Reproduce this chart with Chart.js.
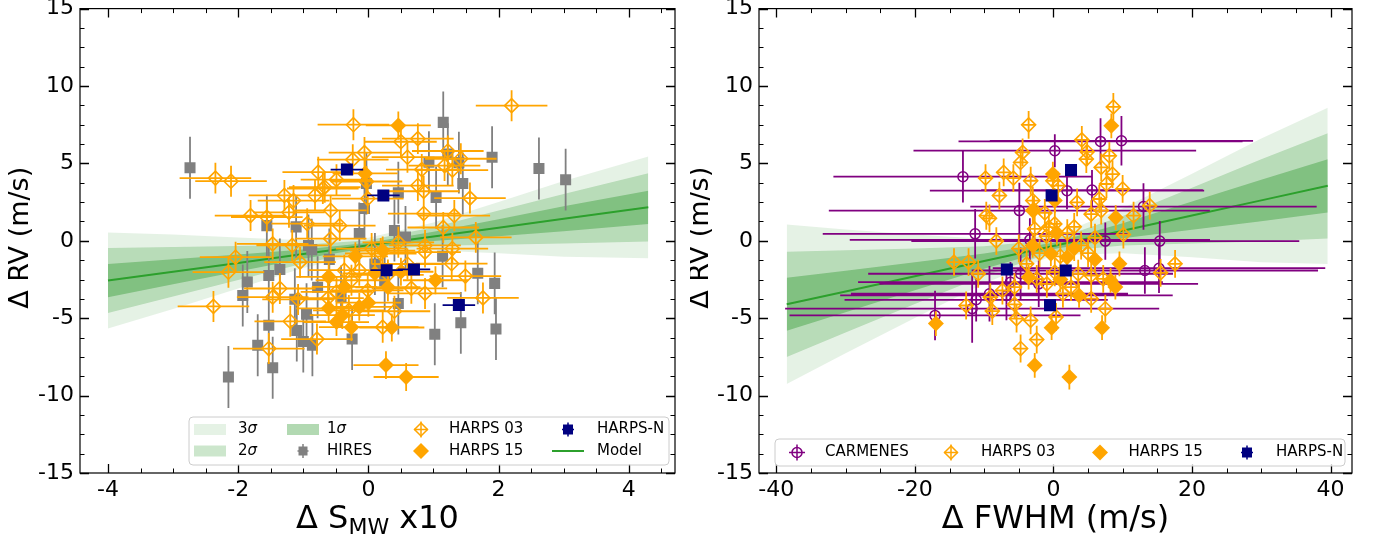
<!DOCTYPE html>
<html>
<head>
<meta charset="utf-8">
<script src="https://cdn.jsdelivr.net/npm/chart.js@4.4.0/dist/chart.umd.min.js"></script>
<style>
  html, body { margin: 0; padding: 0; background: #fff; overflow: hidden; }
  #wrap { position: relative; width: 1383px; height: 540px; }
  #c1 { position: absolute; left: 0; top: 0; }
  #c2 { position: absolute; left: 690px; top: 0; }
</style>
</head>
<body>
<div id="wrap">
  <canvas id="c1" width="690" height="540"></canvas>
  <canvas id="c2" width="693" height="540"></canvas>
</div>
<script>
// ---- ticks ----
const yTicks = [-15, -10, -5, 0, 5, 10, 15];
const xTicksS = [-4, -2, 0, 2, 4];
const xTicksF = [-40, -20, 0, 20, 40];

// ---- panel 1 : RV vs S_MW ----
const hiresX = [-2.74, -2.15, -1.93, -1.86, -1.70, -1.56, -1.53, -1.53, -1.47, -1.36, -1.13, -1.11, -1.10, -1.00, -0.95, -0.92, -0.87, -0.86, -0.78, -0.42, -0.25, -0.14, -0.06, -0.03, 0.40, 0.46, 0.46, 0.57, 0.93, 1.02, 1.04, 1.14, 1.15, 1.22, 1.39, 1.42, 1.45, 1.68, 1.90, 1.94, 1.96, 2.62, 3.03, 0.10, -0.60, 0.25];
const hiresY = [4.72, -8.8, -3.53, -2.66, -6.75, 0.98, -2.24, -5.46, -8.2, -1.85, -3.77, 0.9, -5.8, -6.5, -4.75, -0.3, -0.57, -6.75, -3.0, -3.6, -6.35, 0.47, 2.08, 3.7, 0.67, 3.1, -4.05, 0.25, 5.08, -6.04, 2.8, -1.0, 7.65, 5.6, 5.05, -5.3, 3.7, -2.1, 5.4, -2.75, -5.7, 4.67, 3.95, -1.5, -1.2, -2.6];

const h03sX = [-0.23, 2.2, 0.5, 0.76, -0.06, -0.24, 0.6, 1.22, 1.42, 1.17, 0.82, 1.29, -0.77, -2.35, -2.11, -0.49, -0.67, 0.76, 0.85, -0.03, -1.29, -1.15, -0.82, -0.7, 1.56, -0.01, -1.22, -1.81, -1.56, -0.58, 0.85, 1.32, -0.94, -0.44, 1.15, 1.65, -1.47, -1.17, -0.58, 0.46, 0.87, 1.29, -2.04, -2.15, -1.05, -1.36, -1.47, -1.08, -2.38, -1.2, -1.53, -0.79, 0.4, 0.22, 1.76, 0.87, 1.49, 1.28, -0.26, -0.49, -0.01, 0.66, 0.87, 0.19, -0.37, -0.62, -0.14, 0.3, -0.3, 0.6, 0.05];
const h03sY = [7.5, 8.73, 6.4, 6.6, 5.7, 5.24, 5.4, 5.8, 5.3, 4.86, 4.6, 4.57, 4.43, 4.05, 3.85, 3.95, 3.46, 3.57, 3.2, 3.83, 2.93, 2.6, 2.93, 3.38, 2.76, 2.73, 1.84, 1.63, 1.53, 1.96, 1.76, 1.63, 1.11, 0.98, 0.86, 0.22, -0.2, -0.3, 0.14, -0.1, -0.3, -0.5, -1.06, -2.03, -1.38, -3.08, -3.64, -3.79, -4.24, -5.2, -6.96, -6.35, -4.55, -5.58, -3.69, -3.4, -2.28, -1.48, -2.55, -3.3, -3.2, -3.07, -0.73, -0.82, -1.9, -3.7, -1.9, -2.2, -4.5, -1.5, -0.5];

const h15sX = [0.46, -0.05, -0.61, -0.26, 0.36, 1.03, 0.27, 0.58, -0.49, -0.61, 0.22, 0.1, -0.14, -0.37, 0.3, 0.0, -0.2, 0.5, -0.4];
const h15sY = [7.45, 4.35, -2.33, -5.58, -5.6, -2.55, -8.03, -8.8, -5.25, -4.36, -0.63, -2.1, -4.27, -2.98, -3.0, -4.0, -1.0, -2.0, -4.8];

const hnsX = [-0.33, 0.23, 0.28, 0.7, 1.39];
const hnsY = [4.6, 2.93, -1.9, -1.85, -4.15];

const modelSX = [-4, -3, -2, -1, 0, 1, 2, 3, 4.3];
const modelSY = [-2.57, -2.0, -1.43, -0.86, -0.29, 0.28, 0.85, 1.42, 2.16];
const s1UpS = [-1.50, -1.19, -0.88, -0.56, -0.13, 0.58, 1.40, 2.23, 3.24];
const s1LoS = [-3.64, -2.81, -1.98, -1.16, -0.45, -0.02, 0.30, 0.61, 1.08];
const s2UpS = [-0.47, -0.40, -0.33, -0.26, 0.03, 0.88, 1.95, 3.02, 4.36];
const s2LoS = [-4.67, -3.60, -2.53, -1.46, -0.61, -0.32, -0.25, -0.18, -0.04];
const s3UpS = [0.53, 0.40, 0.22, 0.04, 0.19, 1.18, 2.50, 3.87, 5.44];
const s3LoS = [-5.67, -4.40, -3.08, -1.76, -0.77, -0.62, -0.80, -1.03, -1.12];

// ---- panel 2 : RV vs FWHM ----
const carmX = [-13.06, 0.2, 6.8, 9.82, 1.96, 5.57, -4.92, 13.0, -11.3, -3.4, 7.49, 15.35, 13.2, 15.24, -4.74, -2.12, -9.23, -6.78, -11.15, -11.73, -17.09, -6.2];
const carmY = [4.14, 5.82, 6.42, 6.46, 3.24, 3.28, 1.95, 2.21, 0.45, 0.06, -0.02, -0.02, -1.92, -1.77, -2.13, -2.78, -3.42, -3.53, -3.81, -4.38, -4.82, -2.67];
const carmXErr = [18.7, 20.4, 20.5, 19, 19.8, 16, 27.5, 25, 22, 26, 28, 14, 25, 24, 22, 23, 20, 24, 19, 27, 21, 22];
const carmYErr = [1.66, 1.07, 1.5, 1.6, 1.2, 1.3, 1.8, 1.5, 1.6, 1.4, 1.2, 1.3, 1.5, 1.6, 1.7, 1.5, 1.8, 1.6, 1.4, 2.2, 1.6, 1.3];

const h03fX = [8.65, -3.58, 4.1, 4.87, -4.45, -4.74, 4.75, -7.18, -5.78, -9.8, -3.28, -0.08, 0.68, 6.9, 8.07, 8.53, 7.66, 9.99, -7.8, -2.98, 3.42, 6.62, -9.69, -9.23, -2.8, -1.24, 0.2, 5.45, 11.57, 13.9, 6.9, -8.24, 10.1, -2.7, -0.66, -14.35, -12.25, -10.86, -3.87, -2.41, 0.2, 3.58, 5.45, 7.19, 17.56, 15.47, -7.36, -5.61, -9.11, -12.6, -8.82, -5.61, -5.32, -3.29, 0.38, 5.45, 7.49, 1.37, -2.41, -4.74, -0.95, 2.54, -5, -1, 2, 4, 6, -2, 1, 3, 5];
const h03fY = [8.65, 7.49, 6.52, 5.75, 5.71, 5.06, 5.28, 4.42, 4.05, 4.05, 3.88, 3.88, 3.56, 4.74, 5.49, 4.31, 3.67, 3.35, 2.92, 2.6, 2.48, 2.7, 1.62, 1.45, 2.0, 1.8, 1.09, 1.72, 1.62, 2.27, 1.95, -0.02, 0.4, 0.77, 0.88, -1.38, -1.38, -2.13, -1.49, -2.46, -2.03, -2.13, -2.24, -2.46, -1.49, -2.07, -3.21, -2.99, -3.64, -4.18, -4.54, -4.11, -5.03, -5.14, -4.92, -3.74, -4.39, -3.42, -6.38, -6.96, -2.78, -2.99, -0.5, 0.3, 0.5, -0.3, 0.2, -0.8, -1, 0.9, -0.8];

const h15fX = [8.36, -0.08, 8.99, 0.2, -2.98, -16.97, -0.26, 7.02, -2.7, 2.3, 9.53, 8.25, 8.94, 1.96, 3.7, -3.58, -0.37, -3, 0.5, 3, 6, 1.0];
const h15fY = [7.43, 4.31, 1.5, 2.6, 1.95, -5.35, -5.61, -5.61, -8.04, -8.8, -1.49, -2.56, -2.99, -1.06, -3.53, -2.35, -0.84, -0.3, 0.5, -0.5, -1.2, -2.5];

const hnfX = [2.54, -0.26, -6.72, 1.78, -0.49];
const hnfY = [4.57, 2.92, -1.85, -1.92, -4.17];

const modelFX = [-38.5, -30, -20, -10, 0, 10, 20, 30, 39.6];
const modelFY = [-4.10, -3.27, -2.29, -1.31, -0.33, 0.65, 1.63, 2.61, 3.55];
const s1UpF = [-2.39, -1.93, -1.38, -0.82, -0.13, 1.14, 2.54, 3.95, 5.27];
const s1LoF = [-5.81, -4.61, -3.20, -1.80, -0.53, 0.16, 0.72, 1.27, 1.83];
const s2UpF = [-0.70, -0.61, -0.49, -0.35, 0.07, 1.61, 3.43, 5.27, 6.95];
const s2LoF = [-7.50, -5.93, -4.09, -2.27, -0.73, -0.31, -0.17, -0.05, 0.15];
const s3UpF = [1.05, 0.73, 0.41, 0.14, 0.27, 2.10, 4.33, 6.61, 8.60];
const s3LoF = [-9.25, -7.27, -4.99, -2.76, -0.93, -0.80, -1.07, -1.39, -1.50];

// ---- colours ----
const ORANGE = '#ffa500', GREY = '#808080', NAVY = '#000080', PURPLE = '#800080';
const LINEGREEN = '#2ca02c';
const FONT = '"DejaVu Sans", "Liberation Sans", sans-serif';

const pts = (xs, ys) => xs.map((x, i) => ({ x: x, y: ys[i] }));

// error bars drawn under each scatter set, through the chart scales
const errorBars = {
  id: 'errorBars',
  beforeDatasetDraw(chart, args) {
    const ds = chart.data.datasets[args.index];
    if (ds.errX === undefined && ds.errY === undefined) return;
    const ctx = chart.ctx, a = chart.chartArea;
    const sx = chart.scales.x, sy = chart.scales.y;
    ctx.save();
    ctx.beginPath();
    ctx.rect(a.left, a.top, a.right - a.left, a.bottom - a.top);
    ctx.clip();
    ctx.strokeStyle = ds.errColor;
    ctx.lineWidth = ds.errWidth || 1.5;
    ctx.beginPath();
    ds.data.forEach((p, i) => {
      const ex = Array.isArray(ds.errX) ? ds.errX[i] : (ds.errX || 0);
      const ey = Array.isArray(ds.errY) ? ds.errY[i] : (ds.errY || 0);
      const px = sx.getPixelForValue(p.x), py = sy.getPixelForValue(p.y);
      if (ex) { ctx.moveTo(sx.getPixelForValue(p.x - ex), py); ctx.lineTo(sx.getPixelForValue(p.x + ex), py); }
      if (ey) { ctx.moveTo(px, sy.getPixelForValue(p.y - ey)); ctx.lineTo(px, sy.getPixelForValue(p.y + ey)); }
    });
    ctx.stroke();
    ctx.restore();
  }
};

function marker(ctx, style, x, y, r, fill, stroke, lw) {
  ctx.save();
  ctx.beginPath();
  if (style === 'rect') ctx.rect(x - r, y - r, 2 * r, 2 * r);
  else if (style === 'diamond') { ctx.moveTo(x, y - r); ctx.lineTo(x + r, y); ctx.lineTo(x, y + r); ctx.lineTo(x - r, y); ctx.closePath(); }
  else if (style === 'circle') ctx.arc(x, y, r, 0, Math.PI * 2);
  if (fill) { ctx.fillStyle = fill; ctx.fill(); }
  if (stroke) { ctx.strokeStyle = stroke; ctx.lineWidth = lw; ctx.stroke(); }
  ctx.restore();
}

function errCross(ctx, x, y, dx, dy, col, lw) {
  ctx.save();
  ctx.strokeStyle = col; ctx.lineWidth = lw;
  ctx.beginPath();
  ctx.moveTo(x - dx, y); ctx.lineTo(x + dx, y);
  ctx.moveTo(x, y - dy); ctx.lineTo(x, y + dy);
  ctx.stroke();
  ctx.restore();
}

// legend entries (one per symbol)
const legendDraw = {
  s3: (ctx, x, y) => { ctx.fillStyle = 'rgba(0,128,0,0.1)'; ctx.fillRect(x - 16, y - 5.5, 32, 11); },
  s2: (ctx, x, y) => { ctx.fillStyle = 'rgba(0,128,0,0.2)'; ctx.fillRect(x - 16, y - 5.5, 32, 11); },
  s1: (ctx, x, y) => { ctx.fillStyle = 'rgba(0,128,0,0.3)'; ctx.fillRect(x - 16, y - 5.5, 32, 11); },
  hires: (ctx, x, y) => { errCross(ctx, x, y, 5.5, 7, GREY, 1.5); marker(ctx, 'rect', x, y, 4.5, GREY); },
  h03: (ctx, x, y) => { errCross(ctx, x, y, 7, 8, ORANGE, 1.5); marker(ctx, 'diamond', x, y, 6.5, null, ORANGE, 1.5); },
  h15: (ctx, x, y) => { marker(ctx, 'diamond', x, y, 8, ORANGE); },
  hn: (ctx, x, y) => { errCross(ctx, x, y, 6, 7, NAVY, 1.5); marker(ctx, 'rect', x, y, 5, NAVY); },
  model: (ctx, x, y) => { ctx.save(); ctx.strokeStyle = LINEGREEN; ctx.lineWidth = 2; ctx.beginPath(); ctx.moveTo(x - 16, y); ctx.lineTo(x + 16, y); ctx.stroke(); ctx.restore(); },
  carm: (ctx, x, y) => { errCross(ctx, x, y, 8, 8, PURPLE, 1.5); marker(ctx, 'circle', x, y, 5, null, PURPLE, 1.5); }
};

function legendBox(ctx, x, y, w, h) {
  ctx.save();
  ctx.beginPath();
  ctx.roundRect(x, y, w, h, 4);
  ctx.fillStyle = 'rgba(255,255,255,0.8)';
  ctx.fill();
  ctx.strokeStyle = '#cccccc';
  ctx.lineWidth = 1;
  ctx.stroke();
  ctx.restore();
}

function legendText(ctx, text, x, y, sigma) {
  ctx.save();
  ctx.fillStyle = '#000';
  ctx.textAlign = 'left';
  ctx.textBaseline = 'middle';
  ctx.font = '15px ' + FONT;
  if (sigma) {
    ctx.fillText(text, x, y);
    const w = ctx.measureText(text).width;
    ctx.font = 'italic 15px ' + FONT;
    ctx.fillText('σ', x + w, y);
  } else {
    ctx.fillText(text, x, y);
  }
  ctx.restore();
}

// frame, inward ticks on all sides, axis titles and legend
const decor = {
  id: 'decor',
  afterDraw(chart, args, o) {
    const ctx = chart.ctx, a = chart.chartArea;
    const sx = chart.scales.x, sy = chart.scales.y;
    ctx.save();
    ctx.strokeStyle = '#000';
    ctx.lineWidth = 1.2;
    ctx.strokeRect(a.left, a.top, a.right - a.left, a.bottom - a.top);

    function ticks(vals, len, lw) {
      ctx.lineWidth = lw;
      ctx.beginPath();
      vals.x.forEach(v => {
        const p = Math.round(sx.getPixelForValue(v)) + 0.5;
        ctx.moveTo(p, a.bottom); ctx.lineTo(p, a.bottom - len);
        ctx.moveTo(p, a.top); ctx.lineTo(p, a.top + len);
      });
      vals.y.forEach(v => {
        const p = Math.round(sy.getPixelForValue(v)) + 0.5;
        ctx.moveTo(a.left, p); ctx.lineTo(a.left + len, p);
        ctx.moveTo(a.right, p); ctx.lineTo(a.right - len, p);
      });
      ctx.stroke();
    }
    const minors = (min, max, step, majors) => {
      const out = [];
      for (let v = Math.ceil(min / step) * step; v <= max + 1e-9; v += step) {
        if (!majors.some(m => Math.abs(m - v) < 1e-6)) out.push(v);
      }
      return out;
    };
    ticks({ x: o.xMajor, y: yTicks }, 9, 1.3);
    ticks({ x: minors(sx.min, sx.max, o.xMinor, o.xMajor), y: minors(-15, 15, 1.25, yTicks) }, 4.5, 1);

    // y title
    ctx.fillStyle = '#000';
    ctx.save();
    ctx.translate(o.yTitleX, (a.top + a.bottom) / 2 - 3);
    ctx.rotate(-Math.PI / 2);
    ctx.font = '27px ' + FONT;
    ctx.textAlign = 'center';
    ctx.textBaseline = 'middle';
    ctx.fillText('Δ RV (m/s)', 0, 0);
    ctx.restore();

    // x title (pieces so the subscript can be lowered)
    const cx = (a.left + a.right) / 2;
    const parts = o.xTitle;
    let total = 0;
    parts.forEach(p => { ctx.font = p.size + 'px ' + FONT; p.w = ctx.measureText(p.t).width; total += p.w; });
    let x = cx - total / 2;
    ctx.textAlign = 'left';
    ctx.textBaseline = 'alphabetic';
    parts.forEach(p => { ctx.font = p.size + 'px ' + FONT; ctx.fillText(p.t, x, 528 + (p.dy || 0)); x += p.w; });
    ctx.restore();

    // legend
    const L = o.legend;
    legendBox(ctx, L.box[0], L.box[1], L.box[2], L.box[3]);
    L.items.forEach(it => {
      legendDraw[it.sym](ctx, it.mx, it.y);
      legendText(ctx, it.text, it.tx, it.y, it.sigma);
    });
  }
};

function bandSets(xs, up, lo, alpha) {
  const base = { type: 'line', borderWidth: 0, pointRadius: 0, tension: 0, order: 20 };
  return [
    Object.assign({}, base, { data: pts(xs, up), fill: '+1', backgroundColor: 'rgba(0,128,0,' + alpha + ')' }),
    Object.assign({}, base, { data: pts(xs, lo), fill: false })
  ];
}

function scaleOpts(min, max, tickList, isX, axisSize) {
  return {
    type: 'linear',
    min: min, max: max,
    afterBuildTicks: s => { s.ticks = tickList.map(v => ({ value: v })); },
    afterFit: s => {
      if (isX) s.height = axisSize; else s.width = axisSize;
      s.paddingTop = 0; s.paddingBottom = 0; s.paddingLeft = 0; s.paddingRight = 0;
    },
    grid: { display: false, drawTicks: false },
    border: { display: false },
    ticks: {
      color: '#000',
      font: { family: FONT, size: 22 },
      padding: isX ? 4 : 6,
      maxRotation: 0,
      autoSkip: false,
      callback: v => String(v)
    }
  };
}

function makeChart(id, datasets, xmin, xmax, xt, yAxisW, padRight, decorOpts) {
  return new Chart(document.getElementById(id), {
    type: 'scatter',
    data: { datasets: datasets },
    options: {
      responsive: false,
      animation: false,
      events: [],
      layout: { padding: { left: 0, right: padRight, top: 7.5, bottom: 0 } },
      scales: {
        x: scaleOpts(xmin, xmax, xt, true, 67),
        y: scaleOpts(-15, 15, yTicks, false, yAxisW)
      },
      plugins: {
        legend: { display: false },
        tooltip: { enabled: false },
        decor: decorOpts
      }
    },
    plugins: [errorBars, decor]
  });
}

// ---- left panel ----
const leftSets = [].concat(
  bandSets(modelSX, s3UpS, s3LoS, 0.1),
  bandSets(modelSX, s2UpS, s2LoS, 0.2),
  bandSets(modelSX, s1UpS, s1LoS, 0.3),
  [
    { type: 'line', data: pts(modelSX, modelSY), borderColor: LINEGREEN, borderWidth: 2, pointRadius: 0, fill: false, order: 8 },
    { data: pts(hiresX, hiresY), pointStyle: 'rect', pointRadius: 7.8, backgroundColor: GREY, borderWidth: 0,
      errY: 2.0, errX: 0.04, errColor: GREY, errWidth: 1.8, order: 6 },
    { data: pts(h03sX, h03sY), pointStyle: 'rectRot', pointRadius: 7, backgroundColor: 'rgba(0,0,0,0)', borderColor: ORANGE, borderWidth: 1.6,
      errX: 0.55, errY: 1.0, errColor: ORANGE, errWidth: 1.8, order: 5 },
    { data: pts(h15sX, h15sY), pointStyle: 'rectRot', pointRadius: 8, backgroundColor: ORANGE, borderWidth: 0,
      errX: 0.5, errY: 0.9, errColor: ORANGE, errWidth: 1.8, order: 4 },
    { data: pts(hnsX, hnsY), pointStyle: 'rect', pointRadius: 8.5, backgroundColor: NAVY, borderWidth: 0,
      errX: 0.25, errY: 0.3, errColor: NAVY, errWidth: 1.8, order: 3 }
  ]
);

makeChart('c1', leftSets, -4.43, 4.71, xTicksS, 80, 15, {
  xMajor: xTicksS, xMinor: 0.5, yTitleX: 21,
  xTitle: [{ t: 'Δ S', size: 32 }, { t: 'MW', size: 22, dy: 6 }, { t: ' x10', size: 32 }],
  legend: {
    box: [189, 417, 480, 48],
    items: [
      { sym: 's3', mx: 210, tx: 238, y: 429.5, text: '3', sigma: true },
      { sym: 's2', mx: 210, tx: 238, y: 451, text: '2', sigma: true },
      { sym: 's1', mx: 303, tx: 327, y: 429.5, text: '1', sigma: true },
      { sym: 'hires', mx: 303, tx: 327, y: 451, text: 'HIRES' },
      { sym: 'h03', mx: 421, tx: 449, y: 429.5, text: 'HARPS 03' },
      { sym: 'h15', mx: 421, tx: 449, y: 451, text: 'HARPS 15' },
      { sym: 'hn', mx: 568, tx: 597, y: 429.5, text: 'HARPS-N' },
      { sym: 'model', mx: 568, tx: 597, y: 451, text: 'Model' }
    ]
  }
});

// ---- right panel ----
const rightSets = [].concat(
  bandSets(modelFX, s3UpF, s3LoF, 0.1),
  bandSets(modelFX, s2UpF, s2LoF, 0.2),
  bandSets(modelFX, s1UpF, s1LoF, 0.3),
  [
    { type: 'line', data: pts(modelFX, modelFY), borderColor: LINEGREEN, borderWidth: 2, pointRadius: 0, fill: false, order: 8 },
    { data: pts(carmX, carmY), pointStyle: 'circle', pointRadius: 5, backgroundColor: 'rgba(0,0,0,0)', borderColor: PURPLE, borderWidth: 1.5,
      errX: carmXErr, errY: carmYErr, errColor: PURPLE, errWidth: 1.8, order: 6 },
    { data: pts(h03fX, h03fY), pointStyle: 'rectRot', pointRadius: 7, backgroundColor: 'rgba(0,0,0,0)', borderColor: ORANGE, borderWidth: 1.6,
      errX: 1.0, errY: 0.9, errColor: ORANGE, errWidth: 1.8, order: 5 },
    { data: pts(h15fX, h15fY), pointStyle: 'rectRot', pointRadius: 8, backgroundColor: ORANGE, borderWidth: 0,
      errX: 0.6, errY: 0.8, errColor: ORANGE, errWidth: 1.8, order: 4 },
    { data: pts(hnfX, hnfY), pointStyle: 'rect', pointRadius: 8.5, backgroundColor: NAVY, borderWidth: 0,
      errX: 0.5, errY: 0.3, errColor: NAVY, errWidth: 1.8, order: 3 }
  ]
);

makeChart('c2', rightSets, -42.5, 43.1, xTicksF, 69, 31, {
  xMajor: xTicksF, xMinor: 5, yTitleX: 11,
  xTitle: [{ t: 'Δ FWHM (m/s)', size: 32 }],
  legend: {
    box: [85, 439, 570, 27],
    items: [
      { sym: 'carm', mx: 107, tx: 135, y: 452.5, text: 'CARMENES' },
      { sym: 'h03', mx: 261, tx: 291, y: 452.5, text: 'HARPS 03' },
      { sym: 'h15', mx: 410, tx: 438.5, y: 452.5, text: 'HARPS 15' },
      { sym: 'hn', mx: 557, tx: 586, y: 452.5, text: 'HARPS-N' }
    ]
  }
});
</script>
</body>
</html>
